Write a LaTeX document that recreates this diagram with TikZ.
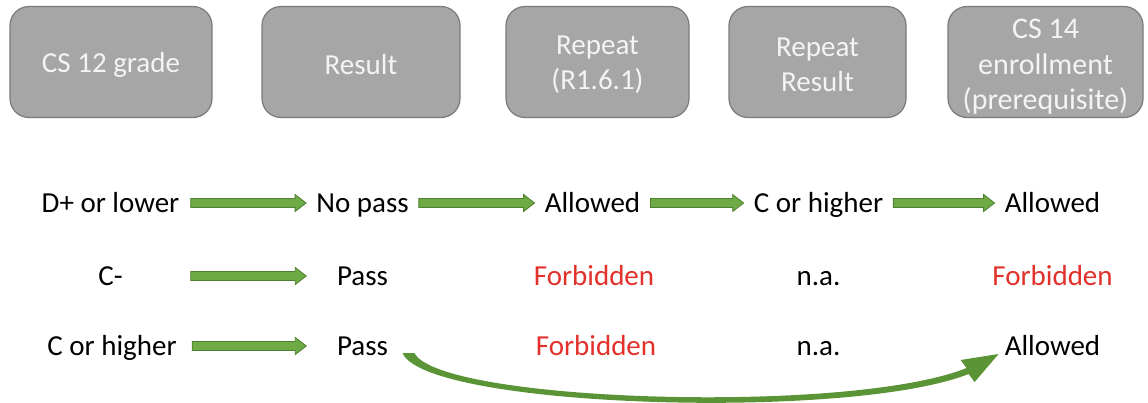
\documentclass[tikz,border=0pt]{standalone}
\usepackage{fontspec}
\setmainfont{Carlito}
\usetikzlibrary{calc}
\definecolor{boxfill}{HTML}{A6A6A6}
\definecolor{boxline}{HTML}{7A7A7A}
\definecolor{boxtext}{HTML}{F4F4F4}
\definecolor{arrfill}{HTML}{6EAB45}
\definecolor{arrline}{HTML}{4F7F30}
\definecolor{curvefill}{HTML}{5A9436}
\definecolor{redtext}{HTML}{E2302B}
\newcommand\blockarrow[2]{%
  \filldraw[blockstyle] let \p1=(#1.base east), \p2=(#2.base west) in
    (\x1+10pt,\y1+4.5pt) -- (\x2-21pt,\y1+4.5pt) -- (\x2-21pt,\y1+0.5pt)
    -- (\x2-10pt,\y1+9pt) -- (\x2-21pt,\y1+17.5pt) -- (\x2-21pt,\y1+13.5pt)
    -- (\x1+10pt,\y1+13.5pt) -- cycle;}
\begin{document}
\begin{tikzpicture}[x=1pt,y=-1pt,
  hbox/.style={draw=boxline, line width=1.2pt, fill=boxfill, rounded corners=19pt,
    inner sep=0pt, minimum height=111pt},
  htxt/.style={text=boxtext, font=\fontsize{29}{35}\selectfont, align=center, inner sep=0pt},
  lbl/.style={anchor=base, inner sep=0pt, font=\fontsize{29}{35}\selectfont},
  forb/.style={lbl, text=redtext},
  colone/.style={minimum width=140pt},
  coltwo/.style={minimum width=92pt},
  blockstyle/.style={fill=arrfill, draw=arrline, line width=0.8pt, line join=miter},
]
\useasboundingbox (0,0) rectangle (1148,402);
% header boxes
\node[hbox, minimum width=202pt] (h1) at (111,62) {};
\node[hbox, minimum width=198pt] (h2) at (361,62) {};
\node[hbox, minimum width=183pt] (h3) at (597.5,62) {};
\node[hbox, minimum width=177pt] (h4) at (817.5,62) {};
\node[hbox, minimum width=195pt] (h5) at (1045.5,62) {};
\node[htxt] (t1) at ([yshift=-3pt]h1.center) {CS 12 grade};
\node[htxt] (t2) at ([yshift=-3pt]h2.center) {Result};
\node[htxt] (t3) at ([yshift=-3pt]h3.center) {Repeat\\(R1.6.1)};
\node[htxt] (t4) at ([yshift=-3pt]h4.center) {Repeat\\Result};
\node[htxt, font=\fontsize{30}{35.5}\selectfont] (t5) at ([yshift=-5pt]h5.center) {CS 14\\enrollment\\(prerequisite)};
% row 1
\node[lbl, colone] (a1) at (110.5,212) {D+ or lower};
\node[lbl, coltwo] (a2) at (362.5,212) {No pass};
\node[lbl] (a3) at (592.5,212) {Allowed};
\node[lbl] (a4) at (818.5,212) {C or higher};
\node[lbl] (a5) at (1052.5,212) {Allowed};
% row 2
\node[lbl, colone] (b1) at (110.5,285) {C-};
\node[lbl, coltwo] (b2) at (362.5,285) {Pass};
\node[forb] (b3) at (594,285) {Forbidden};
\node[lbl] (b4) at (818.5,285) {n.a.};
\node[forb] (b5) at (1052.5,285) {Forbidden};
% row 3
\node[lbl, colone] (c1) at (112,355) {C or higher};
\node[lbl, coltwo] (c2) at (362.5,355) {Pass};
\node[forb] (c3) at (596,355) {Forbidden};
\node[lbl] (c4) at (818.5,355) {n.a.};
\node[lbl] (c5) at (1052.5,355) {Allowed};
% straight block arrows
\blockarrow{a1}{a2}
\blockarrow{a2}{a3}
\blockarrow{a3}{a4}
\blockarrow{a4}{a5}
\blockarrow{b1}{b2}
\blockarrow{c1}{c2}
% curved arrow Pass -> Allowed
\coordinate (cs) at ([shift={(40pt,2pt)}]c2.base);
\coordinate (ce) at ([shift={(-6pt,1pt)}]c5.base west);
\fill[curvefill] let \p1=(cs), \p2=(ce) in
  (\x1,\y1) .. controls (\x1+23pt,\y1-55pt) and (\x2-149pt,\y2-67pt) .. (\x2-30pt,\y2-20pt)
  -- (\x2-24pt,\y2-28pt) -- (\x2,\y2) -- (\x2-38pt,\y2-6pt) -- (\x2-32pt,\y2-14pt)
  .. controls (\x2-149pt,\y2-61pt) and (\x1+36pt,\y1-49pt) .. (\x1+12pt,\y1) -- cycle;
\end{tikzpicture}
\end{document}
